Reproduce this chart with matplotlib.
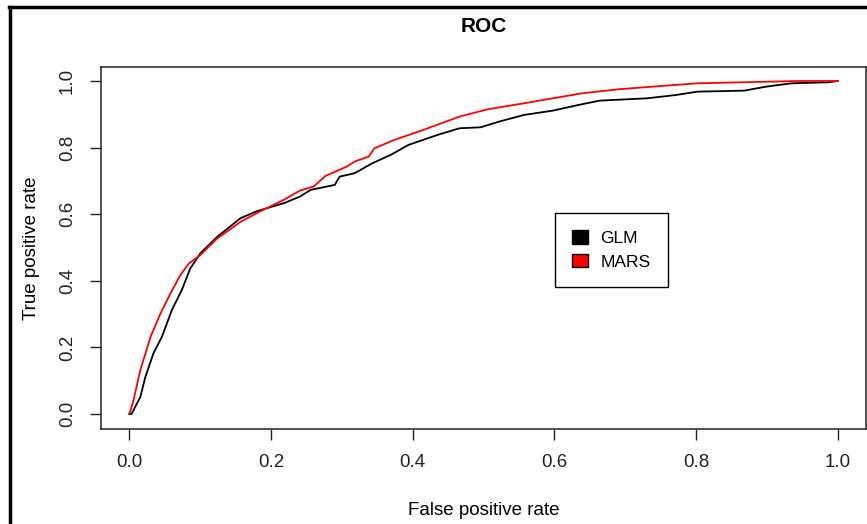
import matplotlib.pyplot as plt
from matplotlib.patches import Patch
from matplotlib.lines import Line2D

plt.rcParams['font.family'] = ['Liberation Sans', 'DejaVu Sans']

# ROC points (false positive rate, true positive rate)
glm_fpr = [0.0, 0.003, 0.0155, 0.0226, 0.034, 0.046, 0.060, 0.074, 0.086, 0.100,
           0.124, 0.157, 0.180, 0.218, 0.241, 0.256, 0.290, 0.297, 0.318, 0.343,
           0.369, 0.394, 0.435, 0.466, 0.496, 0.522, 0.557, 0.598, 0.634, 0.664,
           0.731, 0.772, 0.802, 0.868, 0.899, 0.935, 0.986, 1.0]
glm_tpr = [0.0, 0.0, 0.051, 0.111, 0.182, 0.232, 0.312, 0.372, 0.437, 0.482,
           0.532, 0.588, 0.609, 0.633, 0.653, 0.673, 0.688, 0.713, 0.723, 0.753,
           0.778, 0.808, 0.838, 0.858, 0.861, 0.878, 0.898, 0.911, 0.928, 0.941,
           0.948, 0.958, 0.968, 0.971, 0.983, 0.993, 0.996, 1.0]

mars_fpr = [0.0, 0.006, 0.0155, 0.030, 0.044, 0.058, 0.072, 0.084, 0.100, 0.124,
            0.157, 0.185, 0.218, 0.241, 0.260, 0.277, 0.307, 0.318, 0.338, 0.346,
            0.374, 0.415, 0.466, 0.506, 0.557, 0.598, 0.639, 0.690, 0.751, 0.802,
            0.863, 0.945, 1.0]
mars_tpr = [0.0, 0.042, 0.132, 0.232, 0.302, 0.362, 0.417, 0.452, 0.477, 0.527,
            0.577, 0.609, 0.643, 0.671, 0.683, 0.715, 0.743, 0.758, 0.773, 0.798,
            0.823, 0.853, 0.893, 0.915, 0.933, 0.948, 0.963, 0.975, 0.985, 0.993,
            0.996, 1.0, 1.0]

ticks = [0.0, 0.2, 0.4, 0.6, 0.8, 1.0]
tick_labels = ["0.0", "0.2", "0.4", "0.6", "0.8", "1.0"]

fig = plt.figure(figsize=(8.67, 5.24), dpi=100)
ax = fig.add_axes([101 / 867, 1 - 429 / 524, 765 / 867, 362 / 524])

ax.plot(glm_fpr, glm_tpr, color='black', lw=1.3)
ax.plot(mars_fpr, mars_tpr, color='red', lw=1.3)

ax.set_xlim(-0.04, 1.04)
ax.set_ylim(-0.045, 1.042)
ax.set_xticks(ticks)
ax.set_xticklabels(tick_labels)
ax.set_yticks(ticks)
ax.set_yticklabels(tick_labels, rotation=90, va='center')
ax.tick_params(length=8, width=1, labelsize=13.5, pad=10, colors='#222222')
for s in ax.spines.values():
    s.set_color('#333333')
    s.set_linewidth(1.2)

ax.set_title("ROC", fontsize=15, fontweight='bold', pad=25)
ax.set_xlabel("False positive rate", fontsize=13.5, labelpad=22)
ax.set_ylabel("True positive rate", fontsize=13.5, labelpad=14)

handles = [Patch(facecolor='black', edgecolor='black'),
           Patch(facecolor='red', edgecolor='black')]
leg = ax.legend(handles, ["GLM", "MARS"], loc='upper left',
                bbox_to_anchor=((555 - 101) / 765, (429 - 213) / 362),
                fontsize=12.5, fancybox=False, edgecolor='black', framealpha=1,
                handlelength=0.9, handleheight=0.8, handletextpad=0.7,
                borderpad=1.0, labelspacing=0.45, borderaxespad=0)
leg.get_frame().set_linewidth(1.0)

# outer black frame of the screenshot (left and top edges)
fig.add_artist(Line2D([10 / 867, 10 / 867], [0, 1 - 7 / 524], color='black', lw=2.5,
                      transform=fig.transFigure))
fig.add_artist(Line2D([9 / 867, 1], [1 - 7 / 524, 1 - 7 / 524], color='black', lw=2.5,
                      transform=fig.transFigure))

fig.savefig("out.png", dpi=100)
